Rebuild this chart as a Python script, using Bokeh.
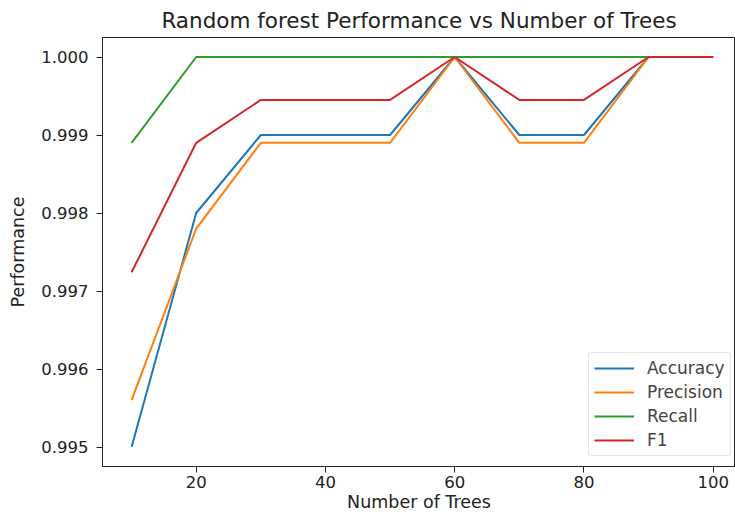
from bokeh.plotting import figure
from bokeh.models import FixedTicker, NumeralTickFormatter, Range1d, Legend, LegendItem
from bokeh.embed import file_html
from bokeh.resources import INLINE

n_trees = [10, 20, 30, 40, 50, 60, 70, 80, 90, 100]
accuracy = [0.9950, 0.9980, 0.9990, 0.9990, 0.9990, 1.0000, 0.9990, 0.9990, 1.0000, 1.0000]
precision = [0.99560, 0.99780, 0.99890, 0.99890, 0.99890, 1.00000, 0.99890, 0.99890, 1.00000, 1.00000]
recall = [0.99890, 1.0000, 1.0000, 1.0000, 1.0000, 1.0000, 1.0000, 1.0000, 1.0000, 1.0000]
f1 = [0.99724, 0.99890, 0.99945, 0.99945, 0.99945, 1.00000, 0.99945, 0.99945, 1.00000, 1.00000]
x_ticks = [20, 40, 60, 80, 100]
y_ticks = [0.995, 0.996, 0.997, 0.998, 0.999, 1.000]

series = [("Accuracy", accuracy, "#1f77b4"), ("Precision", precision, "#ff7f0e"),
          ("Recall", recall, "#2ca02c"), ("F1", f1, "#d62728")]

FONT = "DejaVu Sans"
p = figure(width=735, height=516, output_backend="svg", toolbar_location=None,
           x_range=Range1d(5.5, 103.45), y_range=Range1d(0.99475, 1.00025),
           title="Random forest Performance vs Number of Trees",
           min_border_left=102, min_border_right=0, min_border_top=35, min_border_bottom=50)

items = []
for name, vals, col in series:
    r = p.line(n_trees, vals, line_color=col, line_width=2)
    items.append(LegendItem(label=name, renderers=[r]))

leg = Legend(items=items, location=(486, 10))
leg.label_text_font = FONT
leg.label_text_font_size = "17px"
leg.glyph_width = 40
leg.glyph_height = 20
leg.label_height = 20
leg.label_standoff = 13
leg.spacing = 4
leg.padding = 5
leg.margin = 0
leg.border_line_color = "#d0d0d0"
leg.background_fill_alpha = 0.8
if "border_radius" in Legend.properties():
    leg.border_radius = 4
p.add_layout(leg)

p.title.align = "center"
p.title.text_font = FONT
p.title.text_font_size = "21.5px"
p.title.text_font_style = "normal"
p.title.text_color = "#222222"
p.title.offset = 0

p.xgrid.visible = False
p.ygrid.visible = False
p.outline_line_color = "#222222"
p.outline_line_alpha = 1

p.xaxis.ticker = FixedTicker(ticks=x_ticks)
p.yaxis.ticker = FixedTicker(ticks=y_ticks)
p.yaxis.formatter = NumeralTickFormatter(format="0.000")
p.xaxis.axis_label = "Number of Trees"
p.yaxis.axis_label = "Performance"
for ax in (p.xaxis, p.yaxis):
    ax.axis_label_text_font = FONT
    ax.axis_label_text_font_size = "17.5px"
    ax.axis_label_text_font_style = "normal"
    ax.axis_label_text_color = "#222222"
    ax.major_label_text_font = FONT
    ax.major_label_text_font_size = "16.5px"
    ax.major_label_text_color = "#222222"
    ax.major_tick_out = 6
    ax.major_tick_in = 0
    ax.minor_tick_out = 0
    ax.minor_tick_in = 0
    ax.axis_line_color = "#222222"
    ax.major_tick_line_color = "#222222"
p.xaxis.major_label_standoff = 3
p.xaxis.axis_label_standoff = 1
p.yaxis.major_label_standoff = 8
p.yaxis.axis_label_standoff = 10

open("out.html", "w").write(file_html(p, INLINE))
